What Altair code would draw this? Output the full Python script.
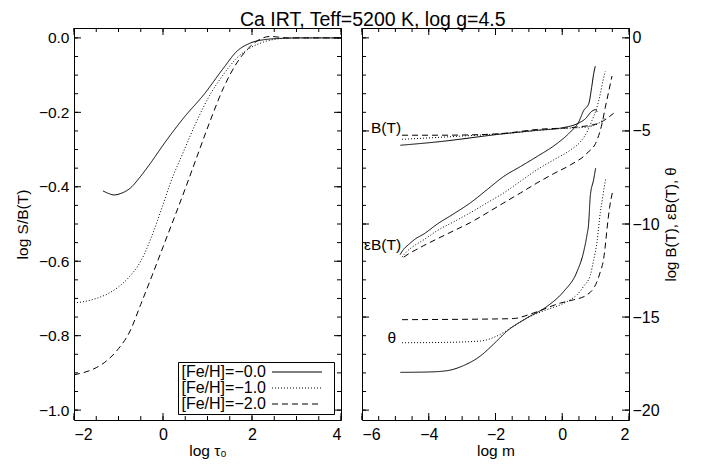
import altair as alt
import pandas as pd

# ---------------- data ----------------
FEH = ["[Fe/H]=\u22120.0", "[Fe/H]=\u22121.0", "[Fe/H]=\u22122.0"]
DASH = [[1, 0], [1, 2], [6, 4]]

# left panel: log S/B(T) vs log tau0
LT_X0 = [-1.35, -1.2, -1.1, -0.95, -0.74, -0.51, -0.29, 0.02, 0.47, 0.92, 1.36, 1.66, 1.96, 2.26, 2.7, 3.2, 4.0]
LT_Y0 = [-0.411, -0.419, -0.422, -0.418, -0.404, -0.373, -0.338, -0.285, -0.214, -0.152, -0.081, -0.036, -0.014, -0.005, -0.001, 0.0, 0.0]
LT_X1 = [-2.0, -1.75, -1.5, -1.25, -1.0, -0.75, -0.5, -0.25, 0.0, 0.16, 0.47, 0.76, 1.06, 1.36, 1.66, 1.96, 2.26, 2.64, 3.0, 4.0]
LT_Y1 = [-0.712, -0.708, -0.700, -0.688, -0.669, -0.641, -0.600, -0.532, -0.448, -0.392, -0.303, -0.223, -0.152, -0.098, -0.054, -0.027, -0.011, -0.002, 0.0, 0.0]
LT_X2 = [-2.0, -1.75, -1.5, -1.25, -1.0, -0.75, -0.5, -0.25, 0.0, 0.25, 0.5, 0.76, 1.06, 1.36, 1.66, 1.96, 2.19, 2.41, 2.6, 2.8, 3.2, 4.0]
LT_Y2 = [-0.905, -0.898, -0.886, -0.866, -0.835, -0.790, -0.716, -0.640, -0.562, -0.484, -0.405, -0.320, -0.223, -0.134, -0.067, -0.023, -0.003, 0.004, 0.002, 0.0, 0.0, 0.0]

# right panel: B(T)
BT_X0 = [-4.85, -3.75, -1.75, -0.76, 0.0, 0.44, 0.69, 0.89, 0.99, 1.05]
BT_Y0 = [-5.77, -5.59, -5.15, -4.97, -4.83, -4.62, -4.35, -3.94, -3.86, -3.98]
BT_X1 = [-4.8, -3.75, -2.75, -1.75, -0.76, 0.0, 0.74, 1.14, 1.29]
BT_Y1 = [-5.45, -5.35, -5.25, -5.15, -4.97, -4.87, -4.79, -4.53, -4.26]
BT_X2 = [-4.8, -3.75, -2.5, -1.75, -0.76, 0.44, 1.04, 1.54]
BT_Y2 = [-5.23, -5.23, -5.2, -5.13, -4.92, -4.79, -4.62, -4.05]
# eps B(T)
EB_X0 = [-4.86, -4.75, -4.6, -4.4, -4.15, -3.75, -3.25, -2.75, -2.25, -1.75, -1.25, -0.76, -0.16, 0.24, 0.49, 0.64, 0.8, 0.88, 0.95, 0.99]
EB_Y0 = [-11.65, -11.35, -11.1, -10.8, -10.54, -10.01, -9.45, -8.86, -8.15, -7.44, -6.91, -6.38, -5.68, -5.06, -4.53, -3.91, -3.5, -2.67, -1.85, -1.52]
EB_X1 = [-4.8, -4.7, -4.5, -4.15, -3.75, -3.25, -2.75, -2.25, -1.75, -1.25, -0.76, -0.26, 0.24, 0.54, 0.74, 0.89, 1.04, 1.14, 1.22, 1.29]
EB_Y1 = [-11.78, -11.55, -11.25, -10.85, -10.36, -9.88, -9.39, -8.86, -8.33, -7.7, -7.09, -6.56, -6.03, -5.59, -5.06, -4.44, -3.73, -3.0, -2.3, -1.8]
EB_X2 = [-4.75, -4.6, -4.4, -4.15, -3.75, -3.25, -2.75, -2.25, -1.75, -1.25, -0.76, -0.26, 0.24, 0.74, 1.04, 1.19, 1.29, 1.39, 1.49]
EB_Y2 = [-11.78, -11.6, -11.4, -11.16, -10.8, -10.36, -9.92, -9.4, -8.86, -8.33, -7.8, -7.3, -6.83, -6.2, -5.5, -4.62, -3.73, -2.9, -2.05]
# theta
TH_X0 = [-4.85, -4.0, -3.45, -2.95, -2.46, -2.06, -1.66, -1.06, -0.46, 0.04, 0.44, 0.64, 0.74, 0.79, 0.84, 0.94, 1.0]
TH_Y0 = [-17.97, -17.95, -17.88, -17.6, -17.1, -16.46, -15.76, -15.05, -14.43, -13.63, -12.57, -11.5, -10.6, -10.0, -8.5, -7.62, -7.0]
TH_X1 = [-4.8, -3.5, -2.46, -1.96, -1.46, -1.06, -0.46, 0.0, 0.24, 0.44, 0.64, 0.84, 0.94, 1.04, 1.14, 1.2, 1.26, 1.3]
TH_Y1 = [-16.38, -16.36, -16.29, -16.02, -15.49, -15.05, -14.6, -14.3, -14.07, -13.81, -13.35, -12.75, -11.95, -10.98, -9.39, -8.7, -8.0, -7.6]
TH_X2 = [-4.8, -3.0, -1.96, -1.46, -0.86, -0.06, 0.34, 0.74, 0.94, 1.04, 1.14, 1.24, 1.3, 1.34, 1.42, 1.5]
TH_Y2 = [-15.14, -15.12, -15.1, -15.08, -14.78, -14.25, -14.07, -13.81, -13.45, -13.1, -12.57, -11.87, -11.0, -10.28, -9.1, -8.33]

# curve labels in right panel
LBL_TEXT = ["B(T)", "\u03b5B(T)", "\u03b8"]
LBL_X = [-4.8, -4.8, -4.95]
LBL_Y = [-4.83, -11.14, -16.15]

# tick positions
L_XMAJ = [-2, 0, 2, 4]
L_XMIN = [-2 + 0.5 * i for i in range(13)]
L_YMAJ = [-1.0, -0.8, -0.6, -0.4, -0.2, 0.0]
L_YMIN = [round(-1.0 + 0.05 * i, 2) for i in range(21)]
R_XMAJ = [-6, -4, -2, 0, 2]
R_XMIN = [-6 + 0.5 * i for i in range(17)]
R_YMAJ = [-20, -15, -10, -5, 0]
R_YMIN = [-20 + i for i in range(21)]

# ---------------- layout constants ----------------
W, H = 267, 392
FONT = "Liberation Sans"
MAJ, MIN = 7, 4


def curves(pairs, extra=None):
    rows = []
    for k, (xs, ys) in enumerate(pairs):
        for x, y in zip(xs, ys):
            r = {"x": x, "y": y, "feh": FEH[k % 3]}
            if extra is not None:
                r["q"] = extra[k // 3]
            rows.append(r)
    return pd.DataFrame(rows)


left_df = curves([(LT_X0, LT_Y0), (LT_X1, LT_Y1), (LT_X2, LT_Y2)])
right_df = curves([(BT_X0, BT_Y0), (BT_X1, BT_Y1), (BT_X2, BT_Y2),
                   (EB_X0, EB_Y0), (EB_X1, EB_Y1), (EB_X2, EB_Y2),
                   (TH_X0, TH_Y0), (TH_X1, TH_Y1), (TH_X2, TH_Y2)],
                  extra=["B", "eB", "th"])
lbl_df = pd.DataFrame({"t": LBL_TEXT, "x": LBL_X, "y": LBL_Y})

dash_scale = alt.Scale(domain=FEH, range=DASH)


def tick_layers(xmaj, xmin, ymaj, ymin, xenc, yenc):
    out = []
    for vals, L in [(xmaj, MAJ), (xmin, MIN)]:
        base = alt.Chart(pd.DataFrame({"x": vals})).mark_rule(color="black", strokeWidth=1)
        out.append(base.encode(x=xenc, y=alt.value(0), y2=alt.value(L)))
        out.append(base.encode(x=xenc, y=alt.value(H), y2=alt.value(H - L)))
    for vals, L in [(ymaj, MAJ), (ymin, MIN)]:
        base = alt.Chart(pd.DataFrame({"y": vals})).mark_rule(color="black", strokeWidth=1)
        out.append(base.encode(y=yenc, x=alt.value(0), x2=alt.value(L)))
        out.append(base.encode(y=yenc, x=alt.value(W), x2=alt.value(W - L)))
    return out


# ---------------- left panel ----------------
lxs = alt.Scale(domain=[-2, 4], nice=False, zero=False)
lys = alt.Scale(domain=[-1.0266, 0.0266], nice=False, zero=False)
LX = alt.X("x:Q", scale=lxs,
           axis=alt.Axis(values=L_XMAJ, ticks=False, domain=False, grid=False, labelPadding=6,
                         labelFontSize=16, title="log \u03c4\u2080", titleFontSize=15.5,
                         titleFontWeight="normal", titlePadding=1))
LY = alt.Y("y:Q", scale=lys,
           axis=alt.Axis(values=L_YMAJ, format=".1f", ticks=False, domain=False, grid=False,
                         labelPadding=5, labelFontSize=15.5, title="log S/B(T)", titleFontSize=15.5,
                         titleFontWeight="normal", titlePadding=8))

left_lines = alt.Chart(left_df).mark_line(color="black", strokeWidth=1, interpolate="monotone").encode(
    x=LX, y=LY,
    strokeDash=alt.StrokeDash("feh:N", scale=dash_scale, sort=FEH,
                              legend=alt.Legend(title=None, orient="none", legendX=104, legendY=H - 58,
                                                direction="vertical", symbolType="M42,0H67M71,0",
                                                symbolSize=16, symbolStrokeWidth=1, symbolStrokeColor="black",
                                                labelAlign="right", labelOffset=70, labelFontSize=16,
                                                labelColor="black", labelFont=FONT,
                                                strokeColor="black", fillColor="white",
                                                padding=2, rowPadding=-5)),
    order=alt.Order("x:Q"),
)

left = alt.layer(left_lines, *tick_layers(L_XMAJ, L_XMIN, L_YMAJ, L_YMIN, LX, LY)).properties(width=W, height=H)

# ---------------- right panel ----------------
rxs = alt.Scale(domain=[-6, 2], nice=False, zero=False)
rys = alt.Scale(domain=[-20.53, 0.53], nice=False, zero=False)
RX = alt.X("x:Q", scale=rxs,
           axis=alt.Axis(values=R_XMAJ, ticks=False, domain=False, grid=False, labelPadding=6,
                         labelFontSize=16, title="log m", titleFontSize=15.5,
                         titleFontWeight="normal", titlePadding=1))
RY = alt.Y("y:Q", scale=rys,
           axis=alt.Axis(values=R_YMAJ, format="d", orient="right", ticks=False, domain=False, grid=False,
                         labelPadding=3, labelFontSize=16, title="log B(T), \u03b5B(T), \u03b8",
                         titleFontSize=15, titleFontWeight="normal", titleAngle=270,
                         titleBaseline="top", titlePadding=4))

right_lines = alt.Chart(right_df).mark_line(color="black", strokeWidth=1, interpolate="monotone").encode(
    x=RX, y=RY,
    strokeDash=alt.StrokeDash("feh:N", scale=dash_scale, sort=FEH, legend=None),
    detail="q:N",
    order=alt.Order("x:Q"),
)

right_labels = alt.Chart(lbl_df).mark_text(align="right", baseline="middle", fontSize=15.5,
                                            font=FONT, color="black", dx=-1).encode(
    x=RX, y=RY, text="t:N",
)

right = alt.layer(right_lines, right_labels,
                  *tick_layers(R_XMAJ, R_XMIN, R_YMAJ, R_YMIN, RX, RY)).properties(width=W, height=H)

chart = alt.hconcat(
    left, right, spacing=21, bounds="flush",
    title=alt.Title("Ca IRT, Teff=5200 K, log g=4.5", anchor="start", frame="group", dx=166,
                    fontSize=19.5, fontWeight="normal", font=FONT, color="black", offset=-3),
).properties(
    padding={"left": 6, "top": 1, "right": 5, "bottom": 2}
).configure(
    font=FONT
).configure_view(
    stroke="black", strokeWidth=1
).configure_axis(
    labelFont=FONT, titleFont=FONT, labelColor="black", titleColor="black"
)

chart.save("out.html", embed_options={"renderer": "svg", "actions": False})
